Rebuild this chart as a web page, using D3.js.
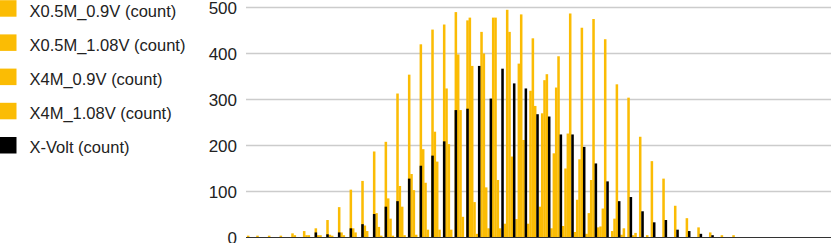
<!DOCTYPE html>
<html>
<head>
<meta charset="utf-8">
<script src="https://cdn.jsdelivr.net/npm/d3@7"></script>
<style>
  body { margin: 0; background: #fff; }
  svg { display: block; }
</style>
</head>
<body>
<script>
// histogram counts, one value per bin (250 bins)
const x05m_09v = [
  0,0,0,0,4, 0,0,0,0,4, 0,0,0,0,4, 0,0,0,0,9, 0,0,0,0,14,
  0,0,0,0,20, 0,0,0,0,38, 0,0,0,0,66, 0,0,0,0,104, 0,0,0,0,123,
  0,0,0,0,187, 0,0,0,0,208, 0,0,0,0,313, 0,0,0,0,354, 0,0,0,0,420,
  0,0,0,0,452, 0,0,0,0,463, 0,0,0,0,490, 0,0,0,0,472, 0,0,0,8,0,
  0,0,0,20,0, 0,0,0,20,0, 0,0,0,176,0, 0,0,0,212,0, 0,0,0,286,0,
  0,0,0,355,0, 0,0,0,394,0, 0,0,0,487,0, 0,0,0,456,0, 0,0,0,475,0,
  0,0,0,431,0, 0,0,0,333,0, 0,0,0,304,0, 0,0,0,219,0, 0,0,0,166,0,
  0,0,0,128,0, 0,0,0,69,0, 0,0,0,42,0, 0,0,0,22,0, 0,0,0,11,0,
  0,0,0,5,0, 0,0,0,5,0, 0,0,0,0,0, 0,0,0,0,0, 0,0,0,0,0,
  0,0,0,0,0, 0,0,0,0,0, 0,0,0,0,0, 0,0,0,0,0, 0,0,0,0,0
];
const x05m_108v = [
  4,0,0,0,0, 0,0,0,0,0, 0,0,0,0,0, 0,0,0,0,0, 5,0,0,0,0,
  5,0,0,0,0, 5,0,0,0,0, 6,0,0,0,0, 11,0,0,0,0, 20,0,0,0,0,
  26,0,0,0,0, 53,0,0,0,0, 85,0,0,0,0, 112,0,0,0,0, 138,0,0,0,0,
  192,0,0,0,0, 230,0,0,0,0, 324,0,0,0,0, 398,0,0,0,0, 478,0,0,0,0,
  447,0,0,0,0, 478,0,0,0,0, 30,0,0,0,0, 40,0,0,0,0, 30,0,0,0,0,
  67,0,0,0,0, 20,0,0,0,0, 25,0,0,0,0, 12,0,0,0,0, 8,0,0,0,0,
  22,0,0,0,0, 0,0,0,0,0, 6,0,0,0,0, 5,0,0,0,0, 0,0,0,0,0,
  0,0,0,0,0, 0,0,0,0,0, 0,0,0,0,0, 0,0,0,0,0, 0,0,0,0,0,
  0,0,0,0,0, 0,0,0,0,0, 0,0,0,0,0, 0,0,0,0,0, 0,0,0,0,0,
  0,0,0,0,0, 0,0,0,0,0, 0,0,0,0,0, 0,0,0,0,0, 0,0,0,0,0
];
const x4m_09v = [
  0,0,0,0,0, 0,0,0,0,0, 0,0,0,0,0, 0,0,0,0,0, 0,0,0,0,0,
  0,5,0,0,0, 0,5,0,0,0, 0,4,0,0,0, 0,5,0,0,0, 0,11,0,0,0,
  0,14,0,0,0, 0,23,0,0,0, 0,41,0,0,0, 0,67,0,0,0, 0,103,0,0,0,
  0,119,0,0,0, 0,165,0,0,0, 0,203,0,0,0, 0,277,0,0,0, 0,373,0,0,0,
  0,400,0,0,0, 0,478,0,0,0, 0,495,0,0,0, 0,378,0,0,0, 0,319,0,0,0,
  0,270,0,0,0, 0,183,0,0,0, 0,150,0,0,0, 0,82,0,0,0, 0,53,0,0,0,
  0,24,0,0,0, 0,14,0,0,0, 0,20,0,0,0, 0,10,0,0,0, 0,5,0,0,0,
  0,0,0,0,0, 0,0,0,0,0, 0,0,0,0,0, 0,0,0,0,0, 0,0,0,0,0,
  0,0,0,0,0, 0,0,0,0,0, 0,0,0,0,0, 0,0,0,0,0, 0,0,0,0,0,
  0,0,0,0,0, 0,0,0,0,0, 0,0,0,0,0, 0,0,0,0,0, 0,0,0,0,0
];
const x4m_108v = [
  0,0,0,0,0, 0,0,0,0,0, 0,0,0,0,0, 0,0,0,0,0, 0,0,0,0,0,
  0,0,0,0,0, 0,0,0,0,0, 0,0,0,0,0, 0,0,0,0,0, 0,0,0,0,0,
  0,0,0,0,0, 0,0,4,0,0, 0,0,4,0,0, 0,0,5,0,0, 0,0,6,0,0,
  0,0,17,0,0, 0,0,17,0,0, 0,0,17,0,0, 0,0,45,0,0, 0,0,77,0,0,
  0,0,109,0,0, 0,0,125,0,0, 0,0,447,0,0, 0,0,485,0,0, 0,0,433,0,0,
  0,0,342,0,0, 0,0,326,0,0, 0,0,226,0,0, 0,0,170,0,0, 0,0,125,0,0,
  0,0,63,0,0, 0,0,41,0,0, 0,0,0,0,0, 0,0,0,0,0, 0,0,0,0,0,
  0,0,0,0,0, 0,0,0,0,0, 0,0,0,0,0, 0,0,0,0,0, 0,0,0,0,0,
  0,0,0,0,0, 0,0,0,0,0, 0,0,0,0,0, 0,0,0,0,0, 0,0,0,0,0,
  0,0,0,0,0, 0,0,0,0,0, 0,0,0,0,0, 0,0,0,0,0, 0,0,0,0,0
];
const xVolt = [
  0,0,0,0,0, 0,0,0,0,0, 0,0,0,0,0, 0,0,0,0,0, 0,0,0,0,0,
  0,0,0,0,11, 0,0,0,0,7, 0,0,0,0,11, 0,0,0,0,20, 0,0,0,0,29,
  0,0,0,0,51, 0,0,0,0,67, 0,0,0,0,79, 0,0,0,0,128, 0,0,0,0,156,
  0,0,0,0,178, 0,0,0,0,209, 0,0,0,0,277, 0,0,0,0,280, 0,0,0,0,373,
  0,0,0,0,302, 0,0,0,0,367, 0,0,0,0,335, 0,0,0,0,324, 0,0,0,0,268,
  0,0,0,0,263, 0,0,0,0,224, 0,0,0,0,224, 0,0,0,0,197, 0,0,0,0,161,
  0,0,0,0,122, 0,0,0,0,79, 0,0,0,0,88, 0,0,0,0,57, 0,0,0,0,33,
  0,0,0,0,38, 0,0,0,0,17, 0,0,0,0,14, 0,0,0,0,8, 0,0,0,0,5,
  0,0,0,0,0, 0,0,0,0,0, 0,0,0,0,0, 0,0,0,0,0, 0,0,0,0,0,
  0,0,0,0,0, 0,0,0,0,0, 0,0,0,0,0, 0,0,0,0,0, 0,0,0,0,0
];

const seriesNames = ["X0.5M_0.9V (count)", "X0.5M_1.08V (count)", "X4M_0.9V (count)", "X4M_1.08V (count)", "X-Volt (count)"];
const seriesColors = ["#fbbc04", "#fbbc04", "#fbbc04", "#fbbc04", "#000000"];
const yTicks = [0, 100, 200, 300, 400, 500];

const series = [x05m_09v, x05m_108v, x4m_09v, x4m_108v, xVolt];

const width = 831, height = 243;
const plotLeft = 246, plotRight = 831;

const svg = d3.select("body").append("svg")
  .attr("width", width)
  .attr("height", height)
  .style("font-family", "'Liberation Sans', Arial, sans-serif");

const x = d3.scaleBand()
  .domain(d3.range(xVolt.length))
  .range([247, 830.4])
  .padding(0);

const y = d3.scaleLinear()
  .domain([0, 500])
  .range([237.5, 7.5]);

// gridlines
svg.append("g")
  .selectAll("line")
  .data(yTicks.filter(d => d > 0))
  .join("line")
  .attr("x1", plotLeft).attr("x2", plotRight)
  .attr("y1", d => y(d)).attr("y2", d => y(d))
  .attr("stroke", "#cccccc")
  .attr("stroke-width", 1.3);

// tick labels
svg.append("g")
  .selectAll("text")
  .data(yTicks)
  .join("text")
  .attr("x", 237)
  .attr("y", d => y(d))
  .attr("dy", "0.36em")
  .attr("text-anchor", "end")
  .attr("fill", "#222")
  .style("font-size", "17px")
  .text(d => d);

// bars: all series share a bin, later ones drawn on top
series.forEach((vals, si) => {
  svg.append("g")
    .attr("fill", seriesColors[si])
    .selectAll("rect")
    .data(vals.map((v, i) => ({ i, v })).filter(d => d.v > 0))
    .join("rect")
    .attr("x", d => x(d.i) - 0.1)
    .attr("y", d => y(d.v))
    .attr("width", x.bandwidth() + 0.2)
    .attr("height", d => y(0) - y(d.v));
});

// baseline
svg.append("line")
  .attr("x1", plotLeft).attr("x2", plotRight)
  .attr("y1", y(0)).attr("y2", y(0))
  .attr("stroke", "#333")
  .attr("stroke-width", 1.2);

// legend
const legend = svg.append("g")
  .selectAll("g")
  .data(seriesNames)
  .join("g")
  .attr("transform", (d, i) => `translate(0,${0.2 + i * 34.2})`);

legend.append("rect")
  .attr("width", 16.5)
  .attr("height", 16.5)
  .attr("fill", (d, i) => seriesColors[i]);

legend.append("text")
  .attr("x", 29.5)
  .attr("y", 16.4)
  .attr("fill", "#222")
  .style("font-size", "16.5px")
  .text(d => d);
</script>
</body>
</html>
